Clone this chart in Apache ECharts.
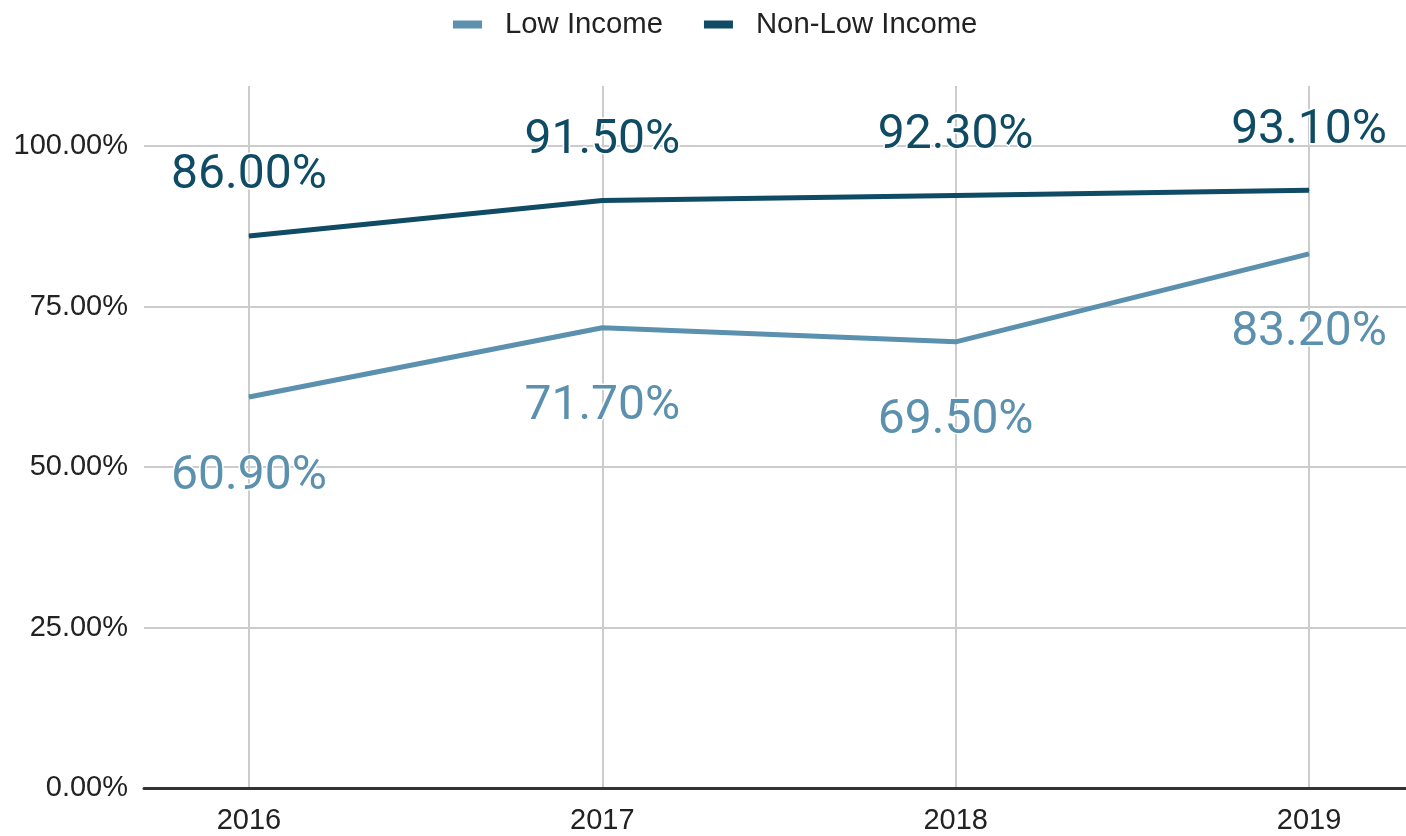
<!DOCTYPE html>
<html>
<head>
<meta charset="utf-8">
<title>Low Income vs Non-Low Income</title>
<script src="https://cdn.jsdelivr.net/npm/echarts@6/dist/echarts.min.js"></script>
<style>
  html, body { margin: 0; padding: 0; background: #fff; }
  #chart { width: 1406px; height: 836px; }
</style>
</head>
<body>
<div id="chart"></div>
<script>
// Years and rates (%) per group
const years = [2016, 2017, 2018, 2019];
const lowIncome = [60.9, 71.7, 69.5, 83.2];
const nonLowIncome = [86.0, 91.5, 92.3, 93.1];
const seriesNames = ['Low Income', 'Non-Low Income'];
const yTicks = [0, 25, 50, 75, 100];

const LOW_COLOR = '#5b91ae';
const NONLOW_COLOR = '#0f4b64';
const AXIS_FONT = '"Liberation Sans", Arial, sans-serif';
const LABEL_FONT = 'Roboto, "Noto Sans", sans-serif';

const pct = v => v.toFixed(2) + '%';
const pairs = vals => years.map((y, i) => [y, vals[i]]);

const chart = echarts.init(document.getElementById('chart'));

function dataLabel(color, position, distance) {
  return {
    show: true,
    position: position,
    distance: distance,
    formatter: p => pct(p.value[1]),
    color: color,
    fontFamily: LABEL_FONT,
    fontSize: 48,
    textBorderColor: '#ffffff',
    textBorderWidth: 3
  };
}

chart.setOption({
  animation: false,
  backgroundColor: '#ffffff',
  legend: {
    top: 5,
    left: 448,
    icon: 'rect',
    itemWidth: 29,
    itemHeight: 8,
    itemGap: 41,
    data: seriesNames,
    textStyle: {
      fontFamily: AXIS_FONT,
      fontSize: 29.3,
      color: '#222222',
      padding: [0, 0, 0, 18]
    }
  },
  grid: { left: 144, right: 0, top: 86, bottom: 48, containLabel: false },
  xAxis: {
    type: 'value',
    min: 2015.703,
    max: 2019.2745,
    minInterval: 1,
    maxInterval: 1,
    axisLine: { show: true, onZero: false, lineStyle: { color: '#333333', width: 3 } },
    axisTick: { show: false },
    axisLabel: {
      showMinLabel: false,
      showMaxLabel: false,
      margin: 18,
      fontFamily: AXIS_FONT,
      fontSize: 29,
      color: '#222222',
      formatter: v => (years.indexOf(v) >= 0 ? String(v) : '')
    },
    splitLine: {
      show: true,
      showMinLine: false,
      showMaxLine: false,
      lineStyle: { color: '#cccccc', width: 2 }
    }
  },
  yAxis: {
    type: 'value',
    min: yTicks[0],
    max: 109.35,
    interval: 25,
    axisLine: { show: false },
    axisTick: { show: false },
    axisLabel: {
      showMaxLabel: false,
      margin: 16,
      fontFamily: AXIS_FONT,
      fontSize: 29,
      color: '#222222',
      formatter: v => (yTicks.indexOf(v) >= 0 ? pct(v) : '')
    },
    splitLine: {
      show: true,
      showMinLine: false,
      showMaxLine: false,
      lineStyle: { color: '#cccccc', width: 2 }
    }
  },
  series: [
    {
      name: seriesNames[0],
      type: 'line',
      data: pairs(lowIncome),
      color: LOW_COLOR,
      symbol: 'circle',
      symbolSize: 1,
      showSymbol: true,
      itemStyle: { color: LOW_COLOR },
      lineStyle: { color: LOW_COLOR, width: 5 },
      label: dataLabel(LOW_COLOR, 'bottom', 55),
      z: 3
    },
    {
      name: seriesNames[1],
      type: 'line',
      data: pairs(nonLowIncome),
      color: NONLOW_COLOR,
      symbol: 'circle',
      symbolSize: 1,
      showSymbol: true,
      itemStyle: { color: NONLOW_COLOR },
      lineStyle: { color: NONLOW_COLOR, width: 5 },
      label: dataLabel(NONLOW_COLOR, 'top', 35),
      z: 4
    }
  ]
});
</script>
</body>
</html>
